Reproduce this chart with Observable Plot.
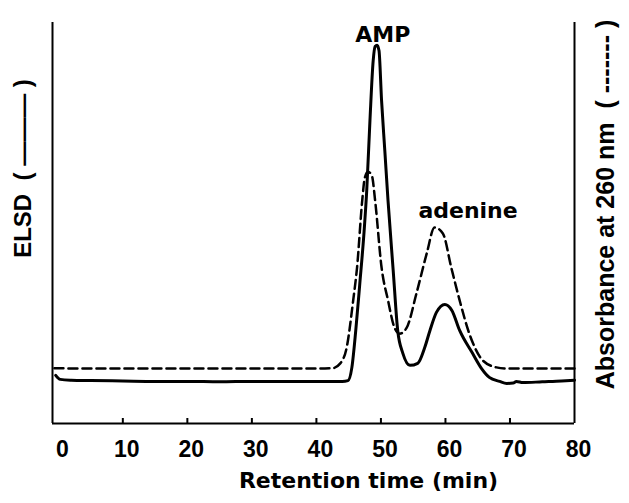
<!DOCTYPE html>
<html><head><meta charset="utf-8">
<script src="https://cdn.jsdelivr.net/npm/d3@7"></script>
<script src="https://cdn.jsdelivr.net/npm/@observablehq/plot@0.6"></script>
<style>body{margin:0;background:#fff}</style>
</head><body><div id="chart"></div>
<script>
// ELSD trace (solid)
const elsdTime = [-0.4,0.3,2,5,10,15,20,25,30,35,40,44,44.9,45.5,46.1,46.7,47.4,47.8,48.3,48.8,49.1,49.4,49.7,50.1,50.6,51.1,51.9,52.6,53.4,54.5,55.7,56.8,57.6,58.6,59.9,61.0,62.2,64.2,65.6,66.8,68.4,69.5,70.5,71,72,75,78,80];
const elsdSignal = [12.0,11.0,10.8,10.7,10.6,10.5,10.5,10.4,10.5,10.5,10.5,10.5,10.7,14.0,23.2,34.4,48.1,58.1,75.6,90.5,94.0,94.3,93.0,80.5,68.1,55.6,38.2,23.2,17.5,14.5,15.0,19.0,23.2,27.7,29.7,28.2,23.2,17.5,13.7,11.5,10.5,10.0,10.1,10.5,10.2,10.4,10.6,10.8];
// Absorbance at 260 nm trace (dashed)
const uvTime = [-0.6,5,10,20,30,40,42.5,43.7,44.7,45.7,46.3,47.1,47.5,48.0,48.6,49.1,50.1,51.1,52.1,52.9,54.0,55.5,57.1,58.3,59.6,60.9,62.2,63.7,65.8,67.9,69.5,75,80];
const uvSignal = [13.8,13.7,13.7,13.7,13.7,13.7,13.8,15.0,19.0,30.7,38.9,55.6,61.3,62.8,61.8,55.6,38.9,30.7,23.9,22.4,23.9,32.4,42.4,48.9,47.4,38.9,30.7,22.4,15.7,14.0,13.7,13.7,13.7];

const xTickMarks = [10,20,30,40,50,60,70];
const xTickLabels = [0,10,20,30,40,50,60,70,80];
const xDomain = [-0.9, 80];
const yDomain = [0, 100];

const peakNames = ["AMP", "adenine"];
const peakTime = [50.3, 63.5];
const peakSignal = [96.9, 53.0];

const xTitle = "Retention time (min)";
const yTitleLeft = "ELSD  ( \u2014\u2014\u2014 )";
const yTitleRight = "Absorbance at 260 nm  ( ------- )";

const elsd = elsdTime.map((t, i) => ({t, v: elsdSignal[i]}));
const uv = uvTime.map((t, i) => ({t, v: uvSignal[i]}));
const peaks = peakNames.map((n, i) => ({n, t: peakTime[i], v: peakSignal[i]}));

const W = 629, H = 503, mL = 52, mR = 55, mT = 22, mB = 80;
const frameH = H - mT - mB;

const chart = Plot.plot({
  width: W, height: H,
  marginLeft: mL, marginRight: mR, marginTop: mT, marginBottom: mB,
  style: {fontFamily: "'Liberation Sans', Arial, sans-serif", fontWeight: "bold", color: "#000", background: "#fff"},
  x: {domain: xDomain, label: null},
  y: {domain: yDomain, axis: null, label: null},
  marks: [
    Plot.ruleX(xDomain, {stroke: "#000", strokeWidth: 2}),
    Plot.ruleY([yDomain[0]], {stroke: "#000", strokeWidth: 2}),
    Plot.tickX(xTickMarks, {x: d => d, stroke: "#000", strokeWidth: 2, insetTop: frameH - 5}),
    Plot.axisX(xTickLabels, {tickSize: 0, tickPadding: 17, fontSize: 23, fontWeight: "bold", dx: 4, label: null, fill: "#000"}),
    Plot.line(uv, {x: "t", y: "v", stroke: "#000", strokeWidth: 2.5, strokeDasharray: "9,5", curve: "monotone-x"}),
    Plot.line(elsd, {x: "t", y: "v", stroke: "#000", strokeWidth: 3, curve: "monotone-x"}),
    Plot.text(peaks, {x: "t", y: "v", text: "n", fontSize: 22, fontFamily: "'DejaVu Sans', sans-serif", fontWeight: "bold", fill: "#000", lineAnchor: "middle"}),
    Plot.text([xTitle], {text: d => d, frameAnchor: "bottom", textAnchor: "middle", dx: 55, dy: 57, fontSize: 22, fontFamily: "'DejaVu Sans', sans-serif", fontWeight: "bold", fill: "#000", lineAnchor: "middle"}),
    Plot.text([yTitleLeft], {text: d => d, frameAnchor: "left", textAnchor: "middle", rotate: -90, dx: -29.3, dy: -54.5, fontSize: 24, fontWeight: "bold", fill: "#000", lineAnchor: "middle"}),
    Plot.text([yTitleRight], {text: d => d, frameAnchor: "right", textAnchor: "middle", rotate: -90, dx: 31, dy: -18.5, fontSize: 25, fontWeight: "bold", fill: "#000", lineAnchor: "middle"})
  ]
});
document.getElementById("chart").appendChild(chart);
</script>
</body></html>
